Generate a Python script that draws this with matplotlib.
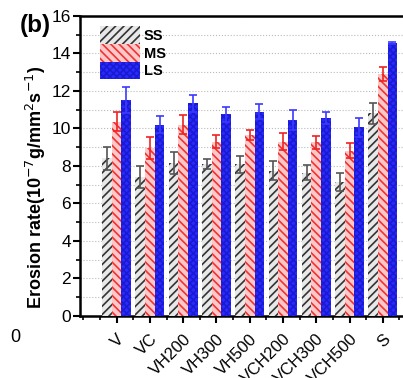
import numpy as np
import matplotlib.pyplot as plt
from matplotlib.ticker import MultipleLocator

plt.rcParams['font.family'] = ['Liberation Sans', 'DejaVu Sans']
plt.rcParams['hatch.linewidth'] = 1.2

samples = ["V", "VC", "VH200", "VH300", "VH500", "VCH200", "VCH300", "VCH500", "S"]
ss = [8.4, 7.4, 8.15, 8.1, 8.1, 7.75, 7.65, 7.15, 10.8]
ss_err = [0.6, 0.6, 0.6, 0.25, 0.45, 0.5, 0.4, 0.5, 0.55]
ms = [10.35, 8.95, 10.2, 9.3, 9.65, 9.3, 9.25, 8.8, 12.9]
ms_err = [0.5, 0.6, 0.5, 0.35, 0.25, 0.45, 0.35, 0.4, 0.35]
ls = [11.5, 10.2, 11.35, 10.75, 10.9, 10.45, 10.55, 10.05, 14.55]
ls_err = [0.7, 0.45, 0.45, 0.4, 0.4, 0.55, 0.3, 0.5, 0.05]

fig = plt.figure(figsize=(4.03, 3.78), dpi=100)
ax = fig.add_axes([0.1985, 0.164, 0.834, 0.794])

x = np.arange(1, len(samples) + 1)
w = 0.29

ax.bar(x - w, ss, w, color="#e8e8e8", edgecolor="#333333", hatch="////", linewidth=0,
       yerr=ss_err, ecolor="#555555", capsize=3, error_kw=dict(elinewidth=1.2, capthick=1.2), label="SS", zorder=3)
ax.bar(x, ms, w, color="#ffc8c8", edgecolor="#ee3333", hatch="\\\\\\\\", linewidth=0,
       yerr=ms_err, ecolor="#ee2222", capsize=3, error_kw=dict(elinewidth=1.2, capthick=1.2), label="MS", zorder=3)
ax.bar(x + w, ls, w, color="#2a2aff", edgecolor="#1a1ad0", hatch="xxxxx", linewidth=0,
       yerr=ls_err, ecolor="#3a3aff", capsize=3, error_kw=dict(elinewidth=1.2, capthick=1.2), label="LS", zorder=3)

ax.set_xlim(-0.1, 10)
ax.set_ylim(0, 16)
ax.set_xticks(x)
ax.set_xticklabels(samples, rotation=45, ha="right", rotation_mode="anchor", fontsize=12)
ax.xaxis.set_minor_locator(MultipleLocator(0.5))
ax.yaxis.set_major_locator(MultipleLocator(2))
ax.yaxis.set_minor_locator(MultipleLocator(1))
ax.tick_params(axis="y", which="major", labelsize=12.5, width=1.5, length=5, pad=1.5)
ax.tick_params(axis="y", which="minor", width=1.2, length=3)
ax.tick_params(axis="x", which="major", width=1.5, length=5, pad=6)
ax.tick_params(axis="x", which="minor", width=1.2, length=3)

ax.grid(axis="y", which="both", linestyle=":", color="#bbbbbb", linewidth=0.8, zorder=0)
for s in ax.spines.values():
    s.set_linewidth(1.8)

ax.set_ylabel("Erosion rate(10$^{-7}$g/mm$^{2}$s$^{-1}$)", fontsize=13, fontweight="bold")
ax.yaxis.set_label_coords(-0.095, 0.43)

ax.legend(loc="upper left", bbox_to_anchor=(0.03, 1.0), frameon=False,
          prop=dict(weight="bold", size=10.5), handlelength=2.7, handleheight=1.5,
          labelspacing=0, handletextpad=0.3, borderaxespad=0.3)

fig.text(0.048, 0.915, "(b)", fontsize=17.5, fontweight="bold")
fig.text(0.025, 0.095, "0", fontsize=13)

fig.savefig("out.png", dpi=100)
